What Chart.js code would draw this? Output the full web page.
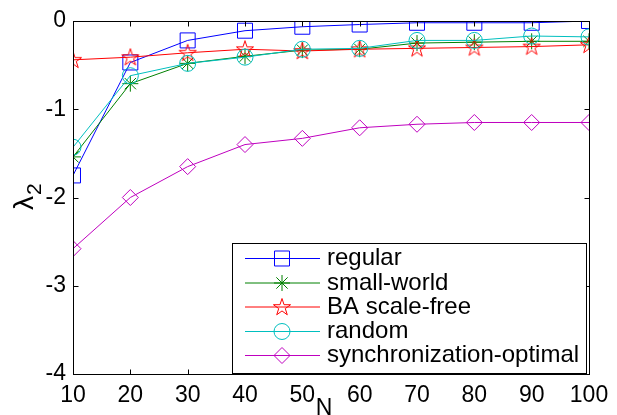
<!DOCTYPE html>
<html>
<head>
<meta charset="utf-8">
<script src="https://cdn.jsdelivr.net/npm/chart.js@4/dist/chart.umd.min.js"></script>
<style>
  html, body { margin: 0; padding: 0; background: #fff; }
  #wrap { width: 617px; height: 415px; }
</style>
</head>
<body>
<div id="wrap"><canvas id="c" width="617" height="415"></canvas></div>
<script>
// values
const N = [10, 20, 30, 40, 50, 60, 70, 80, 90, 100];
const regular   = [-1.75, -0.47, -0.22, -0.11, -0.065, -0.04, -0.02, -0.02, -0.02, 0.0];
const smallWorld = [-1.54, -0.71, -0.48, -0.40, -0.33, -0.32, -0.25, -0.24, -0.23, -0.23];
const baScaleFree = [-0.44, -0.41, -0.36, -0.32, -0.34, -0.32, -0.31, -0.30, -0.29, -0.27];
const random    = [-1.43, -0.62, -0.48, -0.41, -0.32, -0.31, -0.22, -0.22, -0.17, -0.18];
const syncOptimal = [-2.58, -2.00, -1.65, -1.40, -1.33, -1.21, -1.17, -1.15, -1.15, -1.15];

const yTicks = [0, -1, -2, -3, -4];
const seriesNames = ['regular', 'small-world', 'BA scale-free', 'random', 'synchronization-optimal'];

const FONT = '"Liberation Sans", Arial, Helvetica, sans-serif';

// pentagram marker (matlab 'p')
function makePentagram(color) {
  const cv = document.createElement('canvas');
  cv.width = 22; cv.height = 22;
  const g = cv.getContext('2d');
  const R = 9, r = R * 0.382;
  g.beginPath();
  for (let i = 0; i < 10; i++) {
    const a = -Math.PI / 2 + i * Math.PI / 5;
    const rr = i % 2 ? r : R;
    const px = 11 + rr * Math.cos(a), py = 11.5 + rr * Math.sin(a);
    if (i === 0) g.moveTo(px, py); else g.lineTo(px, py);
  }
  g.closePath();
  g.strokeStyle = color;
  g.lineWidth = 1;
  g.stroke();
  return cv;
}

const toXY = arr => arr.map((v, i) => ({ x: N[i], y: v }));

function series(label, data, color, style, radius) {
  return {
    label,
    data: toXY(data),
    borderColor: color,
    backgroundColor: color,
    borderWidth: 1,
    pointStyle: style,
    pointRadius: radius,
    pointHoverRadius: radius,
    pointBorderColor: color,
    pointBackgroundColor: 'rgba(0,0,0,0)',
    pointBorderWidth: 1,
    tension: 0,
    fill: false,
  };
}

const datasets = [
  series(seriesNames[0], regular, '#0000ff', 'rect', 10.6),
  series(seriesNames[1], smallWorld, '#008000', 'star', 8),
  series(seriesNames[2], baScaleFree, '#ff0000', makePentagram('#ff0000'), 10),
  series(seriesNames[3], random, '#00bfbf', 'circle', 8),
  series(seriesNames[4], syncOptimal, '#bf00bf', 'rectRot', 8),
];
// later series drawn on top, like matlab
datasets.forEach((d, i) => { d.order = datasets.length - i; });

const frame = {
  id: 'frame',
  afterDraw(chart) {
    const { ctx, chartArea: a, scales } = chart;
    const L = Math.round(a.left) + 0.5, R = Math.round(a.right) + 0.5;
    const T = Math.round(a.top) + 0.5, B = Math.round(a.bottom) + 0.5;
    ctx.save();
    ctx.strokeStyle = '#000';
    ctx.lineWidth = 1;
    ctx.strokeRect(L, T, R - L, B - T);

    // inward ticks on all four sides
    ctx.beginPath();
    N.forEach(v => {
      const x = Math.round(scales.x.getPixelForValue(v)) + 0.5;
      ctx.moveTo(x, B); ctx.lineTo(x, B - 5);
      ctx.moveTo(x, T); ctx.lineTo(x, T + 5);
    });
    yTicks.forEach(v => {
      const y = Math.round(scales.y.getPixelForValue(v)) + 0.5;
      ctx.moveTo(L, y); ctx.lineTo(L + 5, y);
      ctx.moveTo(R, y); ctx.lineTo(R - 5, y);
    });
    ctx.stroke();

    // axis titles
    ctx.fillStyle = '#000';
    ctx.font = '23px ' + FONT;
    ctx.textAlign = 'center';
    ctx.textBaseline = 'alphabetic';
    ctx.fillText('N', 324, 415);

    ctx.translate(33, 197);
    ctx.rotate(-Math.PI / 2);
    ctx.textAlign = 'left';
    ctx.font = '28px ' + FONT;
    ctx.fillText('\u03bb', -13, 0);
    ctx.font = '21px ' + FONT;
    ctx.fillText('2', 2, 8);
    ctx.restore();

    // legend
    const box = { x: 232.5, y: 243.5, w: 354, h: 130 };
    ctx.save();
    ctx.fillStyle = '#fff';
    ctx.fillRect(box.x, box.y, box.w, box.h);
    ctx.strokeStyle = '#000';
    ctx.lineWidth = 1;
    ctx.strokeRect(box.x, box.y, box.w, box.h);
    const rowY = [258, 282.5, 306.5, 331, 355];
    chart.data.datasets.forEach((d, i) => {
      const y = rowY[i] + 0.5;
      ctx.strokeStyle = d.borderColor;
      ctx.fillStyle = 'rgba(0,0,0,0)';
      ctx.lineWidth = 1;
      ctx.beginPath();
      ctx.moveTo(245, y); ctx.lineTo(320, y);
      ctx.stroke();
      Chart.helpers.drawPoint(ctx, {
        pointStyle: d.pointStyle, radius: d.pointRadius, rotation: 0, borderWidth: 1
      }, 282, y);
      ctx.fillStyle = '#000';
      ctx.font = '24px ' + FONT;
      ctx.textAlign = 'left';
      ctx.textBaseline = 'middle';
      ctx.fillText(d.label, 327, y);
    });
    ctx.restore();
  }
};

new Chart(document.getElementById('c'), {
  type: 'line',
  data: { datasets },
  options: {
    responsive: false,
    animation: false,
    events: [],
    layout: { padding: { top: 21, right: 28, left: 0, bottom: 0 } },
    plugins: {
      legend: { display: false },
      tooltip: { enabled: false },
    },
    scales: {
      x: {
        type: 'linear',
        min: 10,
        max: 100,
        afterFit(s) { s.height = 41; },
        afterBuildTicks(s) { s.ticks = N.map(v => ({ value: v })); },
        grid: { display: false, drawTicks: false },
        border: { display: false },
        ticks: {
          color: '#000',
          padding: 8,
          maxRotation: 0,
          autoSkip: false,
          font: { family: FONT, size: 23 },
        },
      },
      y: {
        min: -4,
        max: 0,
        afterFit(s) { s.width = 73; },
        afterBuildTicks(s) { s.ticks = yTicks.map(v => ({ value: v })); },
        grid: { display: false, drawTicks: false },
        border: { display: false },
        ticks: {
          color: '#000',
          padding: 7,
          font: { family: FONT, size: 23 },
        },
      },
    },
  },
  plugins: [frame],
});
</script>
</body>
</html>
